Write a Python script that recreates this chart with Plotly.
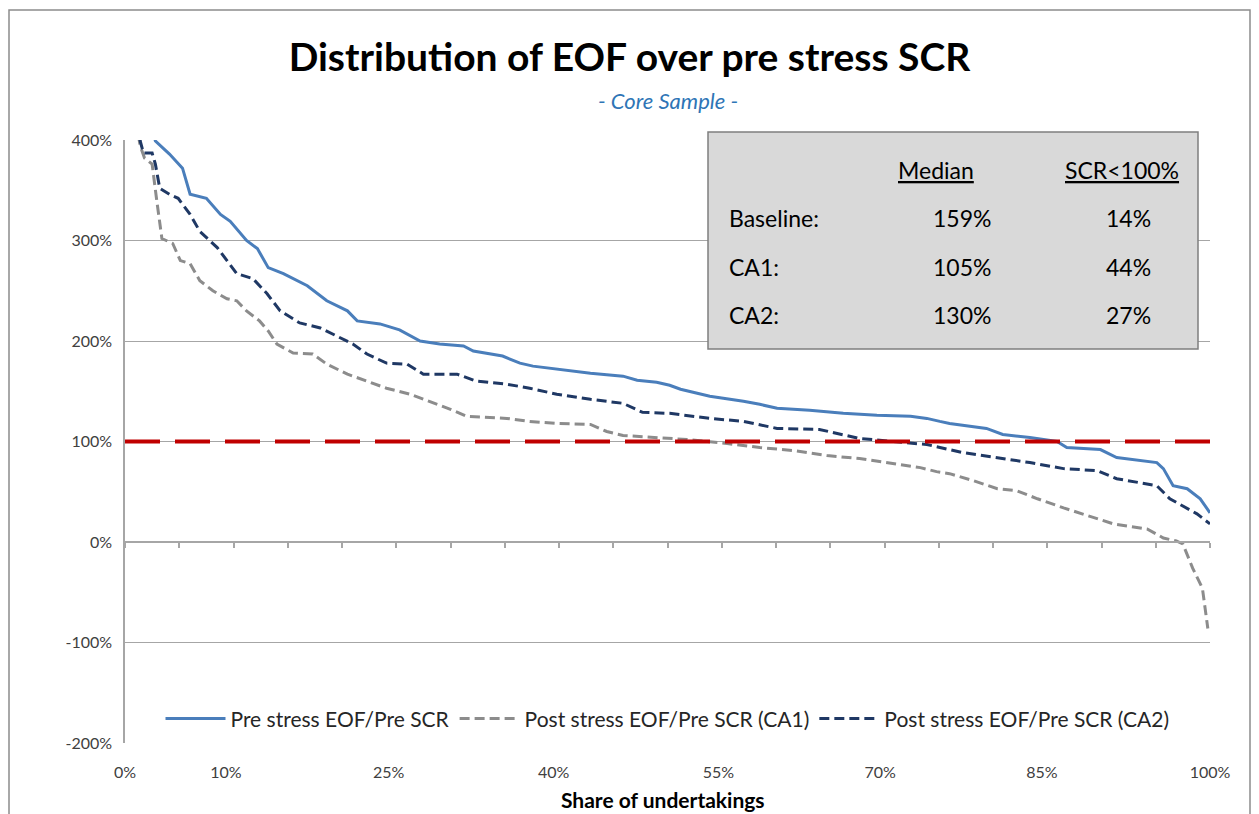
import plotly.graph_objects as go

# share of undertakings (%) and ratio values (%)
pre_x = [1.0, 2.8, 4.1, 5.3, 6.0, 7.5, 8.8, 9.7, 11.2, 12.2, 13.2, 14.6, 16.8, 18.6, 20.5, 21.4,
         23.5, 25.3, 27.2, 29.0, 31.2, 32.1, 34.8, 36.4, 37.6, 39.8, 42.9, 45.9, 47.2, 49.0, 50.2,
         51.2, 53.9, 57.0, 58.5, 60.1, 63.1, 66.2, 69.3, 72.4, 73.9, 75.1, 76.0, 79.4, 80.9, 83.4,
         85.9, 86.8, 89.9, 91.4, 95.1, 95.7, 96.6, 97.9, 99.1, 100.0]
pre_y = [480, 399, 386, 372, 346, 342, 326, 319, 300, 292, 273, 267, 255, 240, 230, 220,
         217, 211, 200, 197, 195, 190, 185, 178, 175, 172, 168, 165, 161, 159, 156,
         152, 145, 140, 137, 133, 131, 128, 126, 125, 123, 120, 118, 113, 107, 104,
         100, 94, 92, 84, 79, 73, 56, 53, 43, 29]

ca1_x = [1.0, 1.4, 1.8, 2.5, 2.9, 3.4, 4.4, 5.1, 6.0, 6.9, 8.1, 9.4, 10.3, 11.2, 12.4, 13.2,
         14.0, 15.5, 17.3, 18.6, 20.5, 22.3, 24.1, 26.3, 28.1, 30.0, 31.5, 35.2, 37.3, 39.8,
         42.9, 44.4, 45.9, 49.0, 51.8, 55.5, 58.5, 61.6, 64.7, 67.7, 70.8, 73.3, 74.8, 76.0,
         78.2, 80.4, 82.2, 84.1, 86.5, 88.9, 91.1, 94.2, 95.7, 96.9, 97.5, 98.4, 99.3, 99.8]
ca1_y = [420, 394, 382, 376, 342, 302, 297, 280, 277, 260, 250, 242, 240, 230, 220, 210,
         197, 188, 187, 177, 167, 160, 153, 147, 140, 132, 125, 123, 120, 118,
         117, 110, 106, 104, 102, 98, 94, 91, 86, 83, 78, 74, 70, 68,
         61, 53, 51, 43, 34, 26, 18, 13, 4, 1, -2, -26, -46, -86]

ca2_x = [1.0, 1.4, 1.7, 2.5, 2.8, 3.2, 4.1, 4.9, 6.0, 6.9, 8.5, 9.4, 10.3, 11.8, 13.1, 14.3,
         16.1, 18.0, 19.5, 21.0, 22.3, 24.1, 26.0, 27.5, 30.6, 32.4, 35.2, 37.3, 39.8, 42.9,
         45.9, 47.7, 50.2, 53.9, 57.0, 60.1, 64.0, 65.6, 67.7, 70.8, 73.9, 77.2, 80.4, 83.4,
         86.5, 89.6, 91.4, 95.1, 96.3, 98.8, 100.0]
ca2_y = [430, 399, 387, 387, 376, 352, 346, 342, 326, 309, 293, 280, 267, 262, 247, 230,
         218, 213, 205, 197, 187, 178, 177, 167, 167, 160, 157, 153, 147, 142,
         138, 129, 128, 123, 120, 113, 112, 108, 103, 100, 97, 89, 84, 79,
         73, 71, 63, 56, 43, 28, 18]

threshold_x = [0, 100]
threshold_y = [100, 100]

# category-axis labels sit a little left of their nominal share
x_tick_pos = [0, 9.3, 24.3, 39.5, 54.7, 69.6, 84.5, 100]
x_tick_text = ["0%", "10%", "25%", "40%", "55%", "70%", "85%", "100%"]
y_ticks = [-200, -100, 0, 100, 200, 300, 400]

table_rows = ["Baseline:", "CA1:", "CA2:"]
table_median = ["159%", "105%", "130%"]
table_scr = ["14%", "44%", "27%"]

FONT = "Lato"
GREY_TXT = "#404040"

fig = go.Figure()

fig.add_trace(go.Scatter(x=pre_x, y=pre_y, mode="lines", name="Pre stress EOF/Pre SCR",
                         line=dict(color="#4a7ebb", width=3)))
fig.add_trace(go.Scatter(x=ca1_x, y=ca1_y, mode="lines", name="Post stress EOF/Pre SCR (CA1)",
                         line=dict(color="#8c8c8c", width=3, dash="10px,5px")))
fig.add_trace(go.Scatter(x=ca2_x, y=ca2_y, mode="lines", name="Post stress EOF/Pre SCR (CA2)",
                         line=dict(color="#1f3864", width=3, dash="10px,5px")))
# 100% reference line, on the overlay axis that also carries the 0% tick marks
fig.add_trace(go.Scatter(x=threshold_x, y=threshold_y, mode="lines", xaxis="x2",
                         showlegend=False, hoverinfo="skip",
                         line=dict(color="#c00000", width=4, dash="35px,15px")))

# page body has an 8px margin, so the figure is offset by 8px
fig.update_layout(
    width=1243, height=806,
    margin=dict(l=117, r=41, t=132, b=71, autoexpand=False),
    paper_bgcolor="white", plot_bgcolor="white",
    font=dict(family=FONT, size=16, color=GREY_TXT),
    title=dict(text="<b>Distribution of EOF over pre stress SCR</b>", x=0.5, xanchor="center",
               y=1 - 49 / 806, yanchor="middle", font=dict(family=FONT, size=39, color="black")),
    xaxis=dict(range=[0, 100], tickvals=x_tick_pos, ticktext=x_tick_text, showgrid=False,
               zeroline=False, showline=False, ticks="", ticklabelstandoff=18,
               automargin=False, tickfont=dict(size=16, color=GREY_TXT)),
    xaxis2=dict(range=[0, 100], overlaying="x", anchor="free", position=1 / 3,
                side="bottom", showline=True, linecolor="#a6a6a6", linewidth=1.5,
                ticks="outside", tickcolor="#a6a6a6", ticklen=5, tickwidth=1.5,
                tick0=0, dtick=5, showticklabels=False, showgrid=False, zeroline=False),
    yaxis=dict(range=[-200, 400], tickvals=y_ticks, ticktext=[f"{v}%" for v in y_ticks],
               showgrid=True, gridcolor="#a6a6a6", gridwidth=1, zeroline=False, showline=True,
               linecolor="#a6a6a6", linewidth=1.5, ticks="", ticklabelstandoff=8,
               automargin=False, tickfont=dict(size=16, color=GREY_TXT)),
    legend=dict(orientation="h", x=0.5, xanchor="center", y=0.04, yanchor="middle",
                bgcolor="rgba(255,255,255,0)", font=dict(size=21, color="#262626"),
                itemwidth=60, tracegroupgap=0),
    showlegend=True,
)

# axis title
fig.add_annotation(text="<b>Share of undertakings</b>", xref="paper", yref="paper",
                   x=(663 - 125) / 1085, y=(743 - 800) / 603, showarrow=False,
                   xanchor="center", yanchor="middle", font=dict(size=21, color="black"))

# subtitle
fig.add_annotation(text="<i>- Core Sample -</i>", xref="paper", yref="paper", x=0.5,
                   y=(743 - 100) / 603, showarrow=False, yanchor="middle",
                   font=dict(family=FONT, size=22, color="#2e75b6"))

# summary table box
fig.add_shape(type="rect", xref="paper", yref="paper",
              x0=(708 - 125) / 1085, x1=(1198 - 125) / 1085,
              y0=(743 - 349) / 603, y1=(743 - 132) / 603,
              fillcolor="#d9d9d9", line=dict(color="#7f7f7f", width=1.5), layer="above")

col_label = (727 - 125) / 1085
col_median = (936 - 125) / 1085
col_med_val = (962 - 125) / 1085
col_scr = (1122 - 125) / 1085
col_scr_val = (1128 - 125) / 1085
header_y = (743 - 170) / 603
row_ys = [(743 - py) / 603 for py in (218, 267, 315)]
tfont = dict(family=FONT, size=23, color="black")

fig.add_annotation(text="<u>Median</u>", xref="paper", yref="paper", x=col_median, y=header_y,
                   showarrow=False, xanchor="center", yanchor="middle", font=tfont)
fig.add_annotation(text="<u>SCR<100%</u>", xref="paper", yref="paper", x=col_scr, y=header_y,
                   showarrow=False, xanchor="center", yanchor="middle", font=tfont)
for lbl, med, scr, ry in zip(table_rows, table_median, table_scr, row_ys):
    fig.add_annotation(text=lbl, xref="paper", yref="paper", x=col_label, y=ry,
                       showarrow=False, xanchor="left", yanchor="middle", font=tfont)
    fig.add_annotation(text=med, xref="paper", yref="paper", x=col_med_val, y=ry,
                       showarrow=False, xanchor="center", yanchor="middle", font=tfont)
    fig.add_annotation(text=scr, xref="paper", yref="paper", x=col_scr_val, y=ry,
                       showarrow=False, xanchor="center", yanchor="middle", font=tfont)

# outer chart frame
fig.add_shape(type="rect", xref="paper", yref="paper",
              x0=(9 - 125) / 1085, x1=(1250 - 125) / 1085,
              y0=(743 - 830) / 603, y1=(743 - 10) / 603,
              line=dict(color="#8c8c8c", width=1.5), fillcolor="rgba(0,0,0,0)")

fig.write_html("out.html")
